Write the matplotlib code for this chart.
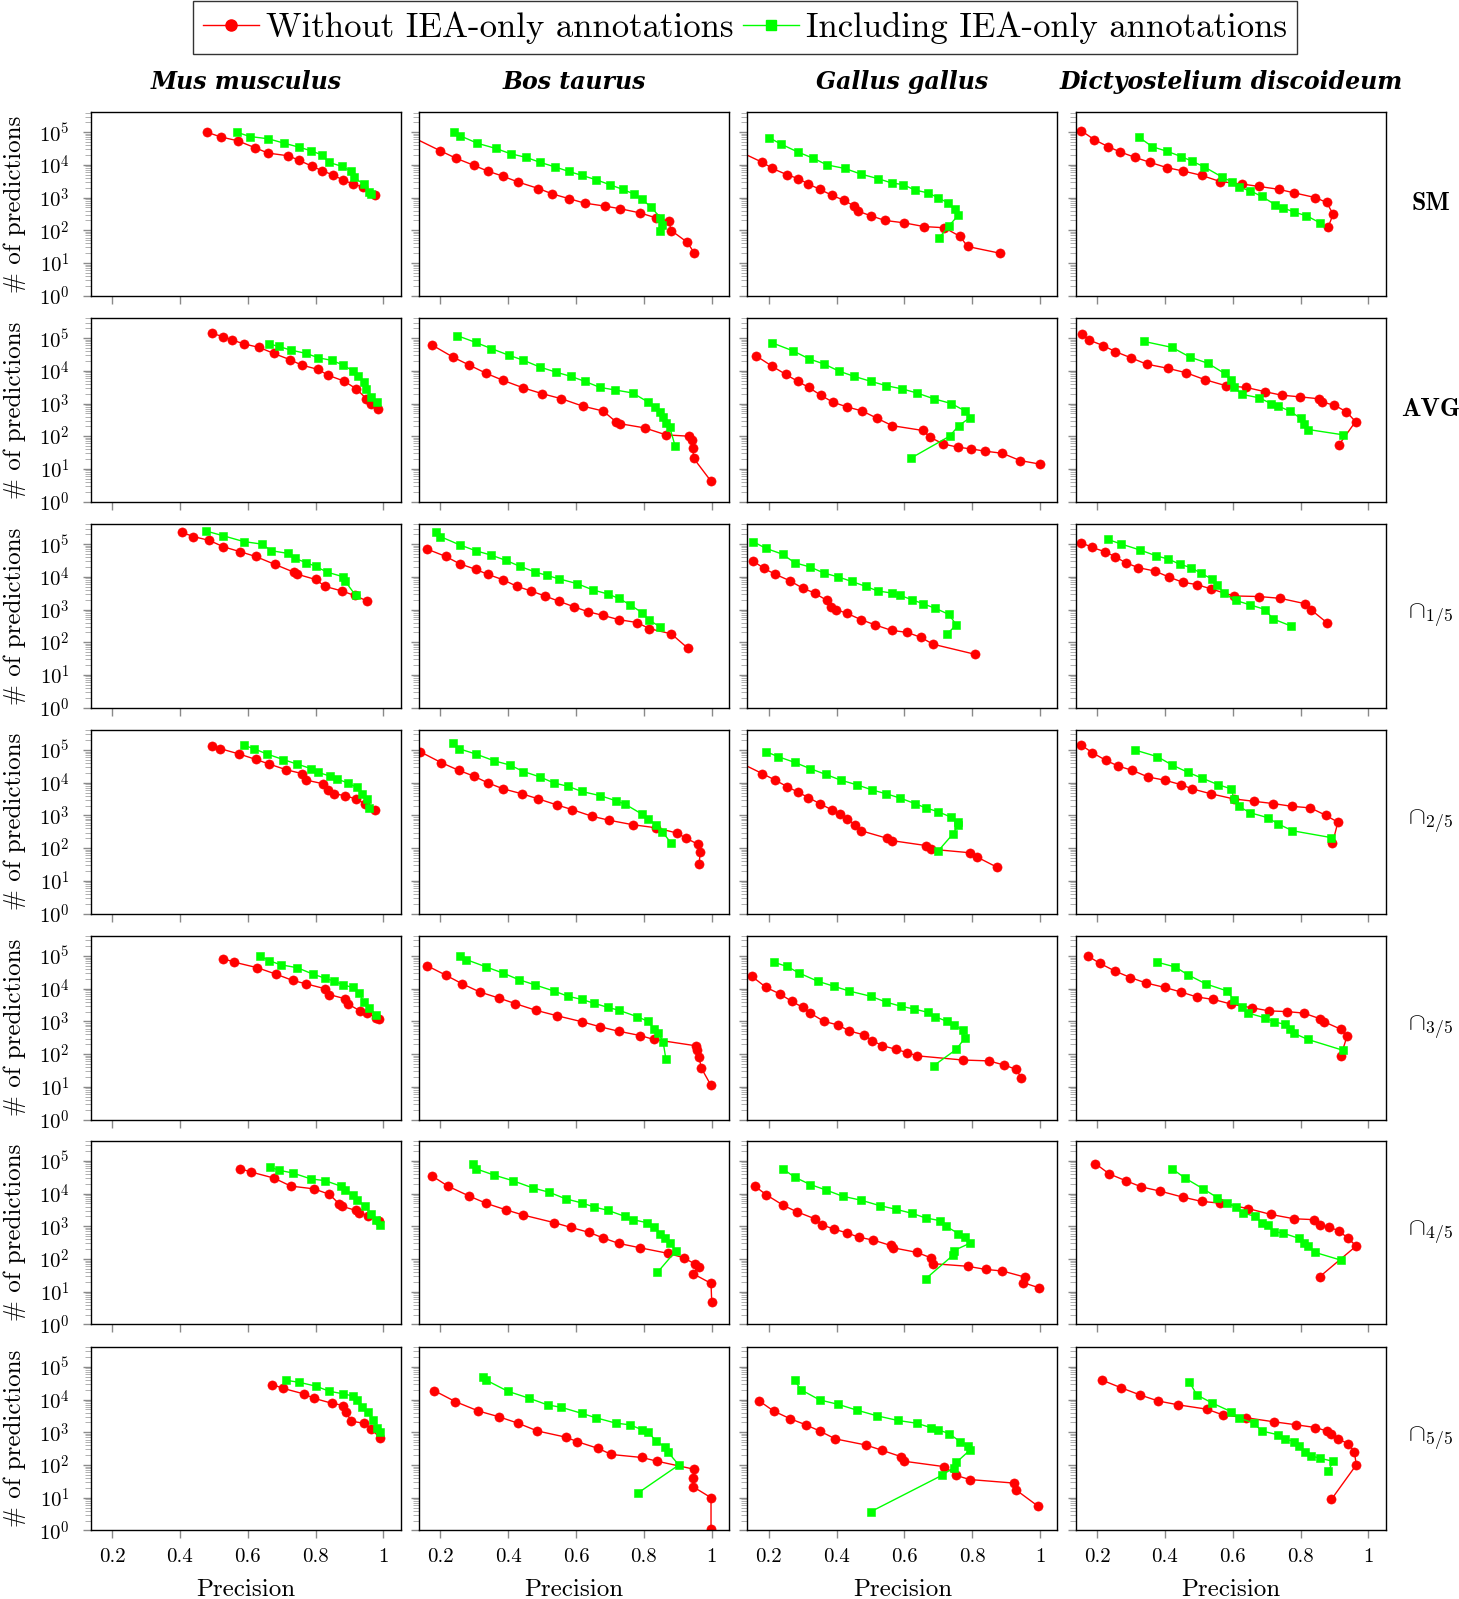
import math

import matplotlib

matplotlib.use("Agg")
import matplotlib.pyplot as plt
from matplotlib.lines import Line2D
from matplotlib.ticker import FixedLocator, LogLocator, NullFormatter, FuncFormatter

# ---- data: precision vs number of predictions, per species / combination method ----
# "wo" = without IEA-only annotations (red), "iea" = including IEA-only (green)

# SM
mus_sm_wo_prec = [0.48, 0.52, 0.57, 0.62, 0.66, 0.72, 0.75, 0.79, 0.82, 0.85, 0.88, 0.91, 0.94, 0.975]
mus_sm_wo_n = [1.0e5, 7.2e4, 5.5e4, 3.4e4, 2.3e4, 1.9e4, 1.4e4, 9.1e3, 6.6e3, 5.0e3, 3.5e3, 2.6e3, 2.1e3, 1.2e3]
mus_sm_iea_prec = [0.568, 0.606, 0.661, 0.708, 0.751, 0.787, 0.82, 0.839, 0.877, 0.904, 0.912, 0.942, 0.958, 0.964]
mus_sm_iea_n = [1.0e5, 7.4e4, 6.3e4, 4.6e4, 3.5e4, 2.7e4, 2.0e4, 1.2e4, 9.1e3, 6.5e3, 4.2e3, 2.6e3, 1.5e3, 1.3e3]

bos_sm_wo_prec = [0.10, 0.2, 0.246, 0.298, 0.339, 0.385, 0.429, 0.489, 0.53, 0.579, 0.625, 0.685, 0.729, 0.789, 0.836, 0.873, 0.881, 0.928, 0.949]
bos_sm_wo_n = [8.7e4, 2.7e4, 1.6e4, 9.8e3, 6.5e3, 4.5e3, 3.0e3, 1.9e3, 1.3e3, 9.3e2, 6.8e2, 5.5e2, 4.6e2, 3.4e2, 2.4e2, 1.9e2, 9.8e1, 4.3e1, 2.0e1]
bos_sm_iea_prec = [0.241, 0.257, 0.309, 0.363, 0.407, 0.453, 0.494, 0.538, 0.579, 0.617, 0.66, 0.699, 0.737, 0.77, 0.794, 0.821, 0.849, 0.854, 0.849]
bos_sm_iea_n = [1.0e5, 7.9e4, 4.6e4, 3.2e4, 2.2e4, 1.7e4, 1.2e4, 8.7e3, 6.3e3, 4.8e3, 3.5e3, 2.5e3, 1.8e3, 1.3e3, 8.9e2, 5.2e2, 2.4e2, 1.5e2, 9.3e1]

gallus_sm_wo_prec = [0.10, 0.181, 0.211, 0.254, 0.287, 0.317, 0.35, 0.385, 0.421, 0.451, 0.462, 0.5, 0.543, 0.598, 0.658, 0.718, 0.764, 0.786, 0.881]
gallus_sm_wo_n = [3.0e4, 1.2e4, 7.8e3, 5.0e3, 3.8e3, 2.6e3, 1.8e3, 1.2e3, 8.3e2, 5.6e2, 3.9e2, 2.8e2, 2.0e2, 1.7e2, 1.3e2, 1.2e2, 6.5e1, 3.2e1, 2.0e1]
gallus_sm_iea_prec = [0.2, 0.235, 0.285, 0.331, 0.372, 0.424, 0.473, 0.522, 0.563, 0.596, 0.631, 0.669, 0.699, 0.729, 0.748, 0.759, 0.732, 0.702]
gallus_sm_iea_n = [6.9e4, 4.4e4, 2.5e4, 1.6e4, 1.0e4, 7.8e3, 5.2e3, 3.8e3, 2.8e3, 2.5e3, 1.7e3, 1.4e3, 1.0e3, 6.8e2, 4.4e2, 2.9e2, 1.4e2, 5.8e1]

dicty_sm_wo_prec = [0.154, 0.192, 0.233, 0.268, 0.312, 0.356, 0.405, 0.454, 0.508, 0.563, 0.628, 0.677, 0.735, 0.781, 0.844, 0.877, 0.896, 0.882]
dicty_sm_wo_n = [1.1e5, 5.9e4, 3.6e4, 2.5e4, 1.7e4, 1.2e4, 8.3e3, 6.5e3, 4.8e3, 3.1e3, 2.6e3, 2.2e3, 1.8e3, 1.4e3, 1.0e3, 7.1e2, 3.1e2, 1.3e2]
dicty_sm_iea_prec = [0.323, 0.363, 0.407, 0.448, 0.48, 0.516, 0.568, 0.598, 0.617, 0.652, 0.685, 0.726, 0.748, 0.781, 0.817, 0.857]
dicty_sm_iea_n = [7.1e4, 3.6e4, 2.6e4, 1.8e4, 1.3e4, 8.7e3, 4.3e3, 3.0e3, 2.1e3, 1.6e3, 1.1e3, 6.0e2, 4.9e2, 3.6e2, 2.8e2, 1.7e2]

# AVG
mus_avg_wo_prec = [0.495, 0.528, 0.555, 0.59, 0.634, 0.677, 0.724, 0.759, 0.808, 0.836, 0.885, 0.92, 0.95, 0.964, 0.983]
mus_avg_wo_n = [1.4e5, 1.1e5, 8.7e4, 6.6e4, 5.2e4, 3.4e4, 2.2e4, 1.5e4, 1.1e4, 7.4e3, 4.8e3, 2.8e3, 1.4e3, 1.0e3, 6.8e2]
mus_avg_iea_prec = [0.664, 0.691, 0.727, 0.773, 0.808, 0.847, 0.882, 0.909, 0.926, 0.942, 0.95, 0.964, 0.98]
mus_avg_iea_n = [6.6e4, 5.6e4, 4.3e4, 3.4e4, 2.5e4, 2.1e4, 1.5e4, 1.0e4, 7.1e3, 4.5e3, 2.8e3, 1.6e3, 1.1e3]

bos_avg_wo_prec = [0.175, 0.238, 0.285, 0.336, 0.385, 0.445, 0.5, 0.557, 0.62, 0.68, 0.717, 0.731, 0.802, 0.865, 0.933, 0.941, 0.944, 0.947, 0.998]
bos_avg_wo_n = [6.2e4, 2.6e4, 1.5e4, 8.3e3, 5.1e3, 3.0e3, 2.0e3, 1.4e3, 8.3e2, 5.9e2, 2.8e2, 2.4e2, 1.8e2, 1.1e2, 1.0e2, 7.9e1, 4.3e1, 2.1e1, 4.2]
bos_avg_iea_prec = [0.249, 0.304, 0.35, 0.402, 0.445, 0.494, 0.541, 0.584, 0.625, 0.671, 0.715, 0.767, 0.813, 0.832, 0.849, 0.857, 0.865, 0.876, 0.892]
bos_avg_iea_n = [1.2e5, 7.4e4, 4.8e4, 3.0e4, 2.1e4, 1.3e4, 9.1e3, 6.8e3, 4.8e3, 3.1e3, 2.6e3, 2.1e3, 1.1e3, 7.9e2, 5.6e2, 3.9e2, 2.5e2, 1.9e2, 5.1e1]

gallus_avg_wo_prec = [0.162, 0.209, 0.25, 0.285, 0.318, 0.353, 0.389, 0.43, 0.476, 0.52, 0.564, 0.654, 0.676, 0.714, 0.758, 0.796, 0.837, 0.889, 0.941, 1.0]
gallus_avg_wo_n = [2.9e4, 1.4e4, 7.8e3, 4.8e3, 3.1e3, 1.8e3, 1.1e3, 7.9e2, 5.9e2, 3.5e2, 2.1e2, 1.5e2, 9.3e1, 5.8e1, 4.6e1, 4.1e1, 3.5e1, 3.0e1, 1.8e1, 1.4e1]
gallus_avg_iea_prec = [0.211, 0.271, 0.32, 0.364, 0.407, 0.451, 0.5, 0.547, 0.593, 0.637, 0.686, 0.738, 0.779, 0.792, 0.76, 0.733, 0.618]
gallus_avg_iea_n = [7.1e4, 4.1e4, 2.3e4, 1.6e4, 9.8e3, 6.8e3, 4.8e3, 3.5e3, 2.8e3, 2.1e3, 1.4e3, 1.0e3, 5.9e2, 3.6e2, 2.1e2, 1.0e2, 2.1e1]

dicty_avg_wo_prec = [0.156, 0.177, 0.218, 0.253, 0.3, 0.346, 0.408, 0.463, 0.517, 0.58, 0.64, 0.695, 0.744, 0.798, 0.853, 0.864, 0.9, 0.935, 0.962, 0.913]
dicty_avg_wo_n = [1.3e5, 8.7e4, 5.9e4, 3.9e4, 2.5e4, 1.6e4, 1.2e4, 8.7e3, 5.4e3, 3.5e3, 3.1e3, 2.3e3, 1.8e3, 1.6e3, 1.4e3, 1.1e3, 8.9e2, 5.6e2, 2.8e2, 5.4e1]
dicty_avg_iea_prec = [0.339, 0.421, 0.475, 0.527, 0.576, 0.595, 0.604, 0.628, 0.677, 0.713, 0.732, 0.768, 0.801, 0.809, 0.823, 0.926]
dicty_avg_iea_n = [7.9e4, 5.2e4, 2.6e4, 1.7e4, 8.3e3, 5.1e3, 3.1e3, 1.9e3, 1.5e3, 1.0e3, 8.5e2, 5.9e2, 3.5e2, 2.4e2, 1.6e2, 1.1e2]

# intersection 1/5
mus_i1_wo_prec = [0.405, 0.44, 0.487, 0.528, 0.577, 0.623, 0.68, 0.735, 0.746, 0.8, 0.828, 0.877, 0.915, 0.953]
mus_i1_wo_n = [2.3e5, 1.7e5, 1.3e5, 8.3e4, 5.9e4, 4.2e4, 2.4e4, 1.4e4, 1.2e4, 8.3e3, 5.1e3, 3.7e3, 2.7e3, 1.8e3]
mus_i1_iea_prec = [0.478, 0.528, 0.588, 0.642, 0.669, 0.719, 0.738, 0.773, 0.8, 0.833, 0.882, 0.888, 0.918]
mus_i1_iea_n = [2.5e5, 1.8e5, 1.2e5, 1.0e5, 6.3e4, 5.2e4, 3.7e4, 2.7e4, 2.1e4, 1.4e4, 1.0e4, 7.2e3, 2.7e3]

bos_i1_wo_prec = [0.16, 0.216, 0.257, 0.304, 0.339, 0.385, 0.426, 0.467, 0.508, 0.549, 0.595, 0.636, 0.68, 0.726, 0.78, 0.816, 0.881, 0.93]
bos_i1_wo_n = [7.1e4, 4.2e4, 2.5e4, 1.7e4, 1.2e4, 8.1e3, 5.1e3, 3.7e3, 2.6e3, 1.8e3, 1.2e3, 8.5e2, 6.6e2, 4.9e2, 4.0e2, 2.6e2, 1.8e2, 6.5e1]
bos_i1_iea_prec = [0.186, 0.2, 0.257, 0.304, 0.35, 0.393, 0.434, 0.48, 0.515, 0.549, 0.603, 0.649, 0.693, 0.726, 0.759, 0.794, 0.816, 0.849]
bos_i1_iea_n = [2.3e5, 1.7e5, 9.5e4, 6.3e4, 4.6e4, 3.2e4, 2.1e4, 1.4e4, 1.1e4, 8.7e3, 6.2e3, 4.0e3, 3.0e3, 2.2e3, 1.4e3, 8.1e2, 4.7e2, 2.9e2]

gallus_i1_wo_prec = [0.153, 0.186, 0.219, 0.262, 0.3, 0.335, 0.371, 0.384, 0.398, 0.431, 0.472, 0.513, 0.562, 0.608, 0.649, 0.684, 0.807]
gallus_i1_wo_n = [3.1e4, 1.8e4, 1.2e4, 7.6e3, 4.5e3, 3.2e3, 1.9e3, 1.2e3, 1.0e3, 7.6e2, 4.9e2, 3.4e2, 2.3e2, 2.0e2, 1.4e2, 8.7e1, 4.3e1]
gallus_i1_iea_prec = [0.153, 0.192, 0.241, 0.276, 0.322, 0.363, 0.404, 0.445, 0.486, 0.521, 0.562, 0.587, 0.622, 0.655, 0.69, 0.731, 0.753, 0.726]
gallus_i1_iea_n = [1.2e5, 7.4e4, 4.9e4, 2.7e4, 2.0e4, 1.3e4, 1.0e4, 7.2e3, 5.1e3, 3.7e3, 3.2e3, 2.7e3, 2.0e3, 1.5e3, 1.1e3, 7.1e2, 3.4e2, 1.8e2]

dicty_i1_wo_prec = [0.154, 0.186, 0.222, 0.254, 0.284, 0.322, 0.371, 0.412, 0.453, 0.494, 0.535, 0.603, 0.677, 0.74, 0.814, 0.83, 0.877]
dicty_i1_wo_n = [1.1e5, 7.9e4, 5.9e4, 4.1e4, 2.7e4, 1.9e4, 1.5e4, 9.8e3, 6.8e3, 5.8e3, 4.3e3, 2.6e3, 2.5e3, 2.2e3, 1.5e3, 1.0e3, 4.0e2]
dicty_i1_iea_prec = [0.231, 0.272, 0.327, 0.374, 0.41, 0.445, 0.478, 0.505, 0.538, 0.554, 0.573, 0.609, 0.65, 0.696, 0.718, 0.773]
dicty_i1_iea_n = [1.4e5, 1.0e5, 6.6e4, 4.4e4, 3.5e4, 2.4e4, 1.9e4, 1.3e4, 8.7e3, 5.8e3, 3.2e3, 1.9e3, 1.4e3, 1.0e3, 5.2e2, 3.1e2]

# intersection 2/5
mus_i2_wo_prec = [0.495, 0.519, 0.574, 0.623, 0.664, 0.713, 0.76, 0.773, 0.822, 0.836, 0.855, 0.888, 0.918, 0.945, 0.975]
mus_i2_wo_n = [1.3e5, 1.1e5, 7.6e4, 5.2e4, 3.7e4, 2.5e4, 1.9e4, 1.2e4, 9.3e3, 5.8e3, 4.6e3, 4.0e3, 3.2e3, 2.3e3, 1.5e3]
mus_i2_iea_prec = [0.588, 0.618, 0.656, 0.705, 0.746, 0.787, 0.806, 0.842, 0.863, 0.896, 0.921, 0.937, 0.951, 0.959]
mus_i2_iea_n = [1.4e5, 1.1e5, 7.6e4, 5.1e4, 3.7e4, 2.7e4, 2.1e4, 1.6e4, 1.3e4, 9.8e3, 7.2e3, 4.6e3, 3.2e3, 1.7e3]

bos_i2_wo_prec = [0.14, 0.203, 0.254, 0.298, 0.339, 0.385, 0.44, 0.489, 0.543, 0.589, 0.646, 0.698, 0.767, 0.835, 0.897, 0.925, 0.96, 0.966, 0.963]
bos_i2_wo_n = [8.9e4, 4.1e4, 2.4e4, 1.6e4, 1.0e4, 6.5e3, 4.6e3, 3.2e3, 2.1e3, 1.5e3, 9.5e2, 7.1e2, 5.2e2, 4.2e2, 2.9e2, 2.0e2, 1.3e2, 7.8e1, 3.2e1]
bos_i2_iea_prec = [0.238, 0.254, 0.304, 0.358, 0.404, 0.445, 0.494, 0.535, 0.576, 0.617, 0.672, 0.718, 0.745, 0.794, 0.813, 0.835, 0.854, 0.881]
bos_i2_iea_n = [1.6e5, 1.1e5, 7.6e4, 4.7e4, 3.5e4, 2.2e4, 1.5e4, 9.8e3, 7.8e3, 5.4e3, 4.0e3, 2.8e3, 2.2e3, 1.1e3, 7.9e2, 5.2e2, 3.2e2, 1.4e2]

gallus_i2_wo_prec = [0.10, 0.181, 0.219, 0.254, 0.287, 0.317, 0.35, 0.385, 0.41, 0.431, 0.453, 0.472, 0.549, 0.562, 0.663, 0.677, 0.794, 0.813, 0.873]
gallus_i2_wo_n = [4.9e4, 1.9e4, 1.2e4, 7.6e3, 5.1e3, 3.5e3, 2.3e3, 1.5e3, 1.1e3, 7.9e2, 5.2e2, 3.4e2, 2.0e2, 1.7e2, 1.2e2, 9.3e1, 7.2e1, 5.4e1, 2.6e1]
gallus_i2_iea_prec = [0.192, 0.227, 0.276, 0.322, 0.368, 0.412, 0.459, 0.505, 0.546, 0.587, 0.631, 0.663, 0.699, 0.737, 0.759, 0.759, 0.743, 0.699]
gallus_i2_iea_n = [8.9e4, 6.3e4, 4.2e4, 2.7e4, 1.8e4, 1.2e4, 8.7e3, 6.0e3, 4.6e3, 3.4e3, 2.3e3, 1.7e3, 1.3e3, 8.9e2, 6.3e2, 5.2e2, 2.7e2, 8.1e1]

dicty_i2_wo_prec = [0.154, 0.186, 0.225, 0.263, 0.304, 0.35, 0.399, 0.448, 0.48, 0.535, 0.603, 0.663, 0.72, 0.774, 0.829, 0.875, 0.91, 0.894]
dicty_i2_wo_n = [1.4e5, 8.3e4, 4.9e4, 3.2e4, 2.4e4, 1.5e4, 1.2e4, 8.7e3, 6.5e3, 4.6e3, 3.2e3, 2.7e3, 2.3e3, 1.9e3, 1.7e3, 1.0e3, 6.2e2, 1.4e2]
dicty_i2_iea_prec = [0.312, 0.377, 0.421, 0.467, 0.508, 0.557, 0.595, 0.604, 0.617, 0.652, 0.704, 0.732, 0.776, 0.89]
dicty_i2_iea_n = [1.0e5, 6.3e4, 3.5e4, 2.1e4, 1.4e4, 8.7e3, 6.5e3, 3.2e3, 1.9e3, 1.2e3, 8.5e2, 5.6e2, 3.4e2, 2.1e2]

# intersection 3/5
mus_i3_wo_prec = [0.528, 0.56, 0.628, 0.683, 0.732, 0.773, 0.828, 0.841, 0.888, 0.896, 0.931, 0.953, 0.978, 0.986]
mus_i3_wo_n = [8.3e4, 6.5e4, 4.4e4, 2.8e4, 1.8e4, 1.4e4, 1.0e4, 6.6e3, 4.9e3, 3.4e3, 2.1e3, 1.8e3, 1.3e3, 1.2e3]
mus_i3_iea_prec = [0.637, 0.664, 0.697, 0.746, 0.792, 0.828, 0.855, 0.882, 0.909, 0.929, 0.942, 0.959, 0.978]
mus_i3_iea_n = [9.8e4, 7.2e4, 5.4e4, 4.4e4, 2.8e4, 2.1e4, 1.7e4, 1.3e4, 1.1e4, 7.6e3, 3.8e3, 2.5e3, 1.6e3]

bos_i3_wo_prec = [0.16, 0.216, 0.265, 0.317, 0.372, 0.421, 0.481, 0.543, 0.617, 0.672, 0.726, 0.789, 0.83, 0.953, 0.958, 0.963, 0.969, 0.998]
bos_i3_wo_n = [5.1e4, 2.6e4, 1.4e4, 7.9e3, 5.2e3, 3.5e3, 2.2e3, 1.5e3, 9.8e2, 6.8e2, 5.0e2, 3.7e2, 2.8e2, 1.8e2, 1.3e2, 7.9e1, 3.8e1, 1.1e1]
bos_i3_iea_prec = [0.257, 0.276, 0.336, 0.385, 0.431, 0.48, 0.535, 0.576, 0.617, 0.653, 0.693, 0.726, 0.78, 0.813, 0.83, 0.843, 0.857, 0.865]
bos_i3_iea_n = [1.0e5, 7.8e4, 4.6e4, 3.0e4, 1.9e4, 1.3e4, 8.5e3, 5.9e3, 4.7e3, 3.6e3, 2.7e3, 2.2e3, 1.4e3, 1.0e3, 6.0e2, 4.5e2, 2.3e2, 6.9e1]

gallus_i3_wo_prec = [0.15, 0.192, 0.233, 0.268, 0.3, 0.322, 0.363, 0.404, 0.437, 0.48, 0.505, 0.535, 0.576, 0.608, 0.636, 0.772, 0.849, 0.895, 0.93, 0.944]
gallus_i3_wo_n = [2.4e4, 1.1e4, 6.9e3, 4.1e3, 2.7e3, 1.8e3, 1.0e3, 7.8e2, 5.1e2, 3.9e2, 2.6e2, 1.8e2, 1.4e2, 1.1e2, 8.9e1, 6.6e1, 6.2e1, 4.6e1, 3.4e1, 1.9e1]
gallus_i3_iea_prec = [0.214, 0.254, 0.29, 0.344, 0.391, 0.437, 0.5, 0.546, 0.59, 0.628, 0.669, 0.69, 0.726, 0.745, 0.773, 0.778, 0.753, 0.686]
gallus_i3_iea_n = [6.5e4, 4.8e4, 3.0e4, 1.7e4, 1.2e4, 8.5e3, 5.9e3, 3.9e3, 2.9e3, 2.4e3, 1.9e3, 1.4e3, 1.0e3, 7.8e2, 5.4e2, 3.1e2, 1.4e2, 4.4e1]

dicty_i3_wo_prec = [0.173, 0.208, 0.252, 0.298, 0.344, 0.399, 0.448, 0.494, 0.543, 0.595, 0.658, 0.707, 0.759, 0.809, 0.858, 0.869, 0.918, 0.937, 0.918]
dicty_i3_wo_n = [1.0e5, 6.0e4, 3.5e4, 2.2e4, 1.5e4, 1.1e4, 7.9e3, 5.6e3, 4.7e3, 3.4e3, 2.6e3, 2.1e3, 2.0e3, 1.8e3, 1.2e3, 9.8e2, 5.8e2, 3.5e2, 8.5e1]
dicty_i3_iea_prec = [0.377, 0.431, 0.467, 0.521, 0.584, 0.604, 0.626, 0.645, 0.694, 0.721, 0.754, 0.768, 0.781, 0.822, 0.926]
dicty_i3_iea_n = [6.5e4, 4.6e4, 2.7e4, 1.4e4, 8.5e3, 4.4e3, 2.7e3, 1.8e3, 1.3e3, 9.8e2, 8.1e2, 6.0e2, 4.3e2, 2.8e2, 1.3e2]

# intersection 4/5
mus_i4_wo_prec = [0.577, 0.609, 0.677, 0.727, 0.795, 0.841, 0.869, 0.877, 0.918, 0.929, 0.956, 0.986]
mus_i4_wo_n = [5.8e4, 4.6e4, 3.0e4, 1.7e4, 1.4e4, 9.5e3, 4.9e3, 4.1e3, 3.1e3, 2.6e3, 2.1e3, 1.5e3]
mus_i4_iea_prec = [0.667, 0.691, 0.732, 0.787, 0.828, 0.874, 0.888, 0.909, 0.923, 0.945, 0.964, 0.978, 0.991]
mus_i4_iea_n = [6.5e4, 5.2e4, 4.3e4, 2.8e4, 2.5e4, 1.7e4, 1.3e4, 9.3e3, 6.6e3, 4.1e3, 2.4e3, 1.6e3, 1.1e3]

bos_i4_wo_prec = [0.175, 0.222, 0.284, 0.336, 0.393, 0.445, 0.535, 0.584, 0.639, 0.68, 0.726, 0.789, 0.87, 0.917, 0.952, 0.963, 0.944, 0.998, 1.0]
bos_i4_wo_n = [3.5e4, 1.7e4, 8.5e3, 5.0e3, 3.2e3, 2.2e3, 1.3e3, 9.3e2, 6.5e2, 4.4e2, 3.0e2, 2.2e2, 1.5e2, 1.1e2, 6.9e1, 5.9e1, 3.6e1, 1.8e1, 5.0]
bos_i4_iea_prec = [0.295, 0.304, 0.358, 0.413, 0.472, 0.521, 0.57, 0.617, 0.653, 0.693, 0.745, 0.767, 0.808, 0.83, 0.849, 0.862, 0.876, 0.895, 0.84]
bos_i4_iea_n = [8.3e4, 5.8e4, 3.7e4, 2.5e4, 1.5e4, 1.1e4, 6.9e3, 5.2e3, 3.9e3, 3.1e3, 2.0e3, 1.6e3, 1.3e3, 9.8e2, 6.0e2, 4.3e2, 3.0e2, 1.8e2, 3.9e1]

gallus_i4_wo_prec = [0.159, 0.192, 0.241, 0.282, 0.336, 0.358, 0.391, 0.432, 0.467, 0.508, 0.559, 0.567, 0.636, 0.677, 0.685, 0.786, 0.84, 0.889, 0.955, 0.95, 0.998]
gallus_i4_wo_n = [1.7e4, 9.3e3, 4.5e3, 2.8e3, 1.7e3, 1.1e3, 8.3e2, 6.2e2, 4.6e2, 3.8e2, 2.6e2, 2.2e2, 1.6e2, 1.1e2, 7.2e1, 6.0e1, 4.8e1, 4.3e1, 2.8e1, 1.9e1, 1.3e1]
gallus_i4_iea_prec = [0.241, 0.276, 0.322, 0.368, 0.418, 0.472, 0.527, 0.576, 0.622, 0.663, 0.704, 0.723, 0.759, 0.778, 0.792, 0.745, 0.743, 0.663]
gallus_i4_iea_n = [5.8e4, 3.2e4, 1.9e4, 1.3e4, 8.3e3, 6.3e3, 4.3e3, 3.3e3, 2.5e3, 1.8e3, 1.5e3, 1.0e3, 6.0e2, 4.8e2, 3.0e2, 1.8e2, 1.3e2, 2.5e1]

dicty_i4_wo_prec = [0.195, 0.236, 0.284, 0.331, 0.385, 0.453, 0.508, 0.563, 0.645, 0.713, 0.781, 0.84, 0.857, 0.885, 0.912, 0.94, 0.964, 0.857]
dicty_i4_wo_n = [8.3e4, 4.0e4, 2.5e4, 1.6e4, 1.2e4, 7.8e3, 5.8e3, 5.1e3, 3.5e3, 2.3e3, 1.7e3, 1.6e3, 1.1e3, 9.3e2, 7.4e2, 4.3e2, 2.5e2, 2.9e1]
dicty_i4_iea_prec = [0.421, 0.459, 0.513, 0.554, 0.584, 0.611, 0.63, 0.666, 0.685, 0.704, 0.721, 0.748, 0.795, 0.809, 0.823, 0.842, 0.918]
dicty_i4_iea_n = [5.8e4, 3.0e4, 1.4e4, 7.6e3, 5.2e3, 3.9e3, 2.6e3, 2.0e3, 1.3e3, 1.1e3, 6.9e2, 6.2e2, 4.3e2, 3.1e2, 2.5e2, 1.6e2, 9.3e1]

# intersection 5/5
mus_i5_wo_prec = [0.672, 0.705, 0.765, 0.795, 0.847, 0.882, 0.891, 0.904, 0.942, 0.964, 0.991]
mus_i5_wo_n = [2.9e4, 2.2e4, 1.5e4, 1.1e4, 7.8e3, 6.6e3, 4.1e3, 2.2e3, 1.9e3, 1.3e3, 6.5e2]
mus_i5_iea_prec = [0.713, 0.751, 0.8, 0.841, 0.882, 0.909, 0.923, 0.937, 0.956, 0.97, 0.98, 0.991]
mus_i5_iea_n = [3.9e4, 3.4e4, 2.6e4, 1.8e4, 1.5e4, 1.3e4, 9.8e3, 5.8e3, 4.1e3, 2.3e3, 1.4e3, 1.0e3]

bos_i5_wo_prec = [0.181, 0.244, 0.312, 0.372, 0.429, 0.486, 0.57, 0.603, 0.666, 0.704, 0.794, 0.84, 0.949, 0.944, 0.944, 0.998, 0.998]
bos_i5_wo_n = [1.9e4, 8.7e3, 4.5e3, 3.0e3, 1.9e3, 1.1e3, 7.1e2, 5.2e2, 3.2e2, 2.1e2, 1.7e2, 1.3e2, 7.4e1, 4.1e1, 2.2e1, 1.0e1, 1.1]
bos_i5_iea_prec = [0.325, 0.336, 0.399, 0.462, 0.516, 0.557, 0.617, 0.658, 0.718, 0.759, 0.794, 0.813, 0.835, 0.862, 0.871, 0.903, 0.783]
bos_i5_iea_n = [4.9e4, 3.9e4, 1.8e4, 1.1e4, 6.9e3, 5.8e3, 3.8e3, 2.8e3, 1.9e3, 1.7e3, 1.2e3, 1.0e3, 5.6e2, 3.5e2, 2.5e2, 1.0e2, 1.4e1]

gallus_i5_wo_prec = [0.172, 0.214, 0.263, 0.309, 0.35, 0.396, 0.486, 0.535, 0.59, 0.6, 0.718, 0.753, 0.792, 0.923, 0.93, 0.995]
gallus_i5_wo_n = [9.1e3, 4.5e3, 2.6e3, 1.7e3, 1.1e3, 6.3e2, 4.1e2, 2.8e2, 1.8e2, 1.3e2, 8.9e1, 4.8e1, 3.6e1, 2.8e1, 1.7e1, 5.4]
gallus_i5_iea_prec = [0.276, 0.295, 0.35, 0.404, 0.459, 0.519, 0.581, 0.636, 0.677, 0.699, 0.732, 0.764, 0.786, 0.792, 0.753, 0.745, 0.71, 0.5]
gallus_i5_iea_n = [3.9e4, 2.0e4, 9.8e3, 7.2e3, 4.8e3, 3.2e3, 2.3e3, 1.9e3, 1.4e3, 1.2e3, 9.1e2, 5.2e2, 3.9e2, 2.8e2, 1.2e2, 8.3e1, 4.8e1, 3.7]

dicty_i5_wo_prec = [0.216, 0.271, 0.326, 0.38, 0.44, 0.524, 0.571, 0.639, 0.721, 0.787, 0.844, 0.877, 0.891, 0.91, 0.94, 0.959, 0.964, 0.891]
dicty_i5_wo_n = [3.9e4, 2.3e4, 1.4e4, 9.1e3, 6.9e3, 5.1e3, 3.4e3, 2.8e3, 2.1e3, 1.7e3, 1.4e3, 1.1e3, 9.1e2, 6.3e2, 4.5e2, 2.5e2, 1.0e2, 8.9]
dicty_i5_iea_prec = [0.472, 0.494, 0.54, 0.595, 0.617, 0.663, 0.685, 0.732, 0.754, 0.781, 0.795, 0.814, 0.831, 0.858, 0.896, 0.882]
dicty_i5_iea_n = [3.5e4, 1.4e4, 7.8e3, 4.3e3, 2.8e3, 1.9e3, 1.1e3, 8.5e2, 6.3e2, 5.2e2, 3.7e2, 2.5e2, 1.9e2, 1.6e2, 1.3e2, 6.6e1]

SPECIES_KEYS = ["mus", "bos", "gallus", "dicty"]
SPECIES_NAMES = ["Mus musculus", "Bos taurus", "Gallus gallus", "Dictyostelium discoideum"]
METHOD_KEYS = ["sm", "avg", "i1", "i2", "i3", "i4", "i5"]
METHOD_LABELS = ["SM", "AVG", r"$\cap_{1/5}$", r"$\cap_{2/5}$", r"$\cap_{3/5}$", r"$\cap_{4/5}$", r"$\cap_{5/5}$"]
LEGEND_LABELS = ["Without IEA-only annotations", "Including IEA-only annotations"]
XTICKS = [0.2, 0.4, 0.6, 0.8, 1.0]
XTICK_LABELS = ["0.2", "0.4", "0.6", "0.8", "1"]

RED = "#ff0000"
GREEN = "#00ff00"

plt.rcParams["font.family"] = ["cmr10", "DejaVu Serif"]
plt.rcParams["mathtext.fontset"] = "cm"
plt.rcParams["axes.formatter.use_mathtext"] = True
plt.rcParams["axes.unicode_minus"] = False

W, H = 1459, 1599
fig = plt.figure(figsize=(W / 100, H / 100), dpi=100)

col_left = [90.7, 419.0, 747.4, 1075.7]
row_top = [112.2, 318.1, 524.1, 730.0, 936.0, 1140.9, 1346.9]
pw, ph = 310.0, 183.5

data = globals()
for r, mk in enumerate(METHOD_KEYS):
    yc = 1 - (row_top[r] + ph / 2) / H
    for c, sk in enumerate(SPECIES_KEYS):
        ax = fig.add_axes([col_left[c] / W, 1 - (row_top[r] + ph) / H, pw / W, ph / H])
        ax.plot(data[f"{sk}_{mk}_wo_prec"], data[f"{sk}_{mk}_wo_n"], color=RED, marker="o",
                markersize=6.6, linewidth=1.0, markeredgewidth=0.4, markeredgecolor=RED)
        ax.plot(data[f"{sk}_{mk}_iea_prec"], data[f"{sk}_{mk}_iea_n"], color=GREEN, marker="s",
                markersize=6.0, linewidth=1.0, markeredgewidth=0.4, markeredgecolor=GREEN)
        ax.set_yscale("log")
        ax.set_xlim(0.137, 1.051)
        ax.set_ylim(1, 4.1e5)
        ax.xaxis.set_major_locator(FixedLocator(XTICKS))
        ax.yaxis.set_major_locator(LogLocator(base=10, numticks=10))
        ax.yaxis.set_minor_locator(LogLocator(base=10, subs=range(2, 10), numticks=20))
        ax.yaxis.set_minor_formatter(NullFormatter())
        ax.tick_params(direction="out", length=6, width=1.0, top=False, right=False,
                       labelsize=15, color="#8a8a8a", labelcolor="black")
        ax.tick_params(axis="y", pad=9)
        ax.tick_params(axis="x", pad=7)
        ax.tick_params(which="minor", length=4, width=0.7, color="#b0b0b0")
        for sp in ax.spines.values():
            sp.set_linewidth(1.0)
        if c == 0:
            ax.yaxis.set_major_formatter(FuncFormatter(lambda v, p: r"$10^{%d}$" % round(math.log10(v))))
        else:
            ax.set_yticklabels([])
        if r == len(METHOD_KEYS) - 1:
            ax.set_xticklabels(XTICK_LABELS)
        else:
            ax.set_xticklabels([])
        if r == 0:
            fig.text((col_left[c] + pw / 2) / W, 1 - 82 / H, SPECIES_NAMES[c],
                     ha="center", va="center", fontsize=17, family="DejaVu Serif",
                     weight="bold", style="italic")
    fig.text(15 / W, yc, "# of predictions", rotation=90, ha="center", va="center", fontsize=18)
    if mk in ("sm", "avg"):
        fig.text(1431 / W, yc, METHOD_LABELS[r], ha="center", va="center", fontsize=18.5,
                 family="cmb10")
    else:
        fig.text(1431 / W, yc, METHOD_LABELS[r], ha="center", va="center", fontsize=18)

for c in range(4):
    fig.text((col_left[c] + pw / 2) / W, 1 - 1590 / H, "Precision",
             ha="center", va="center", fontsize=18)

handles = [
    Line2D([], [], color=RED, marker="o", markersize=8, linewidth=1.0),
    Line2D([], [], color=GREEN, marker="s", markersize=7.5, linewidth=1.0),
]
leg = fig.legend(handles, LEGEND_LABELS, loc="upper center", bbox_to_anchor=(745 / W, 1 - 1 / H),
                 ncol=2, fontsize=25, frameon=True, fancybox=False, edgecolor="black",
                 handlelength=1.6, handletextpad=0.2, columnspacing=0.3, borderpad=0.3,
                 borderaxespad=0)
leg.get_frame().set_linewidth(1.0)

fig.savefig("out.png", dpi=100)
